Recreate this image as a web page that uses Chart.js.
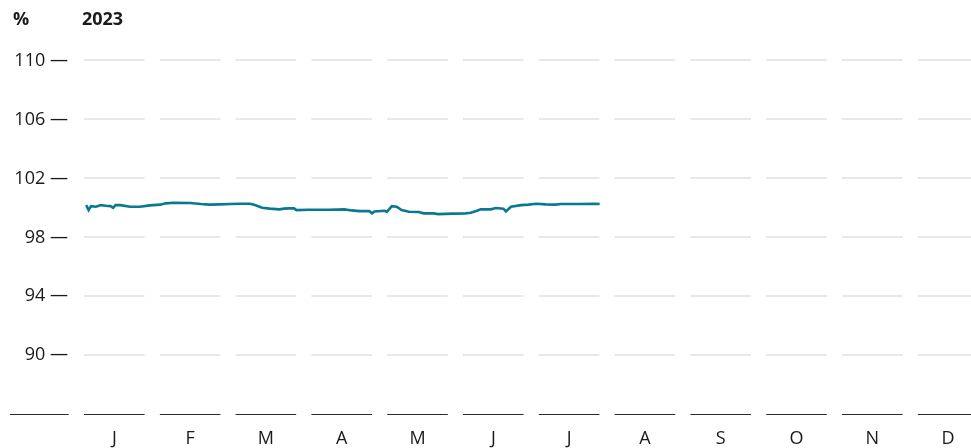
<!DOCTYPE html>
<html>
<head>
<meta charset="utf-8">
<script src="https://cdn.jsdelivr.net/npm/chart.js@4.4.0/dist/chart.umd.min.js"></script>
<style>
  html, body { margin: 0; padding: 0; background: #fff; overflow: hidden; }
  #wrap { width: 1000px; height: 448px; }
</style>
</head>
<body>
<div id="wrap"><canvas id="chart" width="1000" height="448"></canvas></div>
<script>
// month labels along the bottom
const months = ["J", "F", "M", "A", "M", "J", "J", "A", "S", "O", "N", "D"];
const daysInMonth = [31, 28, 31, 30, 31, 30, 31, 31, 30, 31, 30, 31];
const yTicks = [90, 94, 98, 102, 106, 110];

// 2023 observations (MM-DD) and values in %
const dates = [
  "01-05", "01-06", "01-07", "01-09", "01-11", "01-13", "01-15", "01-16", "01-17", "01-19",
  "01-23", "01-27", "01-31", "02-04", "02-06", "02-09", "02-15", "02-19", "02-22", "02-26",
  "03-02", "03-06", "03-10", "03-12", "03-15", "03-18", "03-22", "03-24", "03-26", "03-28",
  "03-29", "04-03", "04-11", "04-17", "04-20", "04-23", "04-27", "04-28", "04-29", "05-03",
  "05-04", "05-06", "05-08", "05-10", "05-13", "05-17", "05-19", "05-23", "05-25", "05-31",
  "06-05", "06-07", "06-09", "06-11", "06-15", "06-17", "06-20", "06-21", "06-23", "06-27",
  "06-30", "07-03", "07-07", "07-11", "07-13", "07-21", "07-27", "07-29"
];
const values = [
  100.19, 99.85, 100.12, 100.08, 100.19, 100.15, 100.12, 100.01, 100.19, 100.19,
  100.08, 100.08, 100.17, 100.22, 100.31, 100.35, 100.33, 100.26, 100.22, 100.24,
  100.26, 100.28, 100.28, 100.19, 100.01, 99.95, 99.90, 99.95, 99.97, 99.97,
  99.85, 99.88, 99.88, 99.90, 99.83, 99.78, 99.78, 99.63, 99.76, 99.81,
  99.74, 100.12, 100.08, 99.85, 99.74, 99.72, 99.63, 99.63, 99.58, 99.61,
  99.63, 99.67, 99.78, 99.90, 99.90, 99.99, 99.95, 99.76, 100.08, 100.19,
  100.22, 100.28, 100.24, 100.22, 100.26, 100.26, 100.28, 100.26
];

function toMonthPos(d) {
  const [m, day] = d.split("-").map(Number);
  return (m - 1) + (day - 1) / daysInMonth[m - 1];
}

const points = dates.map((d, i) => ({ x: toMonthPos(d), y: values[i] }));

const FONT = "'Open Sans', sans-serif";
const TEXT = "#1a1a1a";
const AXIS = "#2b2b2b";

// white gaps between month columns, extra axis piece and titles
const decorPlugin = {
  id: "decor",
  beforeDatasetsDraw(chart) {
    const ctx = chart.ctx;
    const area = chart.chartArea;
    const x = chart.scales.x;
    ctx.save();
    ctx.fillStyle = "#fff";
    for (let k = 0; k <= 12; k++) {
      const bx = x.getPixelForValue(k);
      ctx.fillRect(bx - 7.6, area.top - 3, 15.2, area.bottom - area.top + 6);
    }
    const yb = Math.round(area.bottom) + 0.5;
    ctx.strokeStyle = AXIS;
    ctx.lineWidth = 1;
    ctx.beginPath();
    ctx.moveTo(area.left - 66.4, yb);
    ctx.lineTo(area.left - 7.7, yb);
    ctx.stroke();
    ctx.restore();
  },
  afterDraw(chart) {
    const ctx = chart.ctx;
    const area = chart.chartArea;
    ctx.save();
    ctx.fillStyle = TEXT;
    ctx.font = "bold 18px " + FONT;
    ctx.textBaseline = "middle";
    ctx.textAlign = "left";
    ctx.fillText("%", 13, 20);
    ctx.fillText("2023", area.left + 5.5, 20);
    ctx.restore();
  }
};

new Chart(document.getElementById("chart"), {
  type: "line",
  data: {
    datasets: [
      {
        data: points,
        borderColor: "#0b7891",
        borderWidth: 2.6,
        pointRadius: 0,
        tension: 0,
        fill: false,
      },
    ],
  },
  options: {
    responsive: false,
    animation: false,
    layout: { padding: { top: 31, right: 14, bottom: 0, left: 0 } },
    plugins: { legend: { display: false }, tooltip: { enabled: false } },
    scales: {
      x: {
        type: "linear",
        min: 0,
        max: 12,
        afterBuildTicks(scale) {
          scale.ticks = months.map((m, i) => ({ value: i + 0.5 }));
        },
        afterFit(scale) {
          scale.height = 33.7;
        },
        grid: { display: false, drawTicks: false },
        border: { display: true, color: AXIS, width: 1 },
        ticks: {
          autoSkip: false,
          maxRotation: 0,
          padding: 14,
          color: TEXT,
          font: { family: FONT, size: 18 },
          callback: (v) => months[Math.floor(v)],
        },
      },
      y: {
        min: 86,
        max: 112,
        afterBuildTicks(scale) {
          scale.ticks = yTicks.map((v) => ({ value: v }));
        },
        afterFit(scale) {
          scale.width = 76.4;
        },
        grid: { color: "#e8e8e8", lineWidth: 2, drawTicks: false },
        border: { display: false },
        ticks: {
          padding: 8.5,
          color: TEXT,
          font: { family: FONT, size: 18 },
          callback: (v) => v + " \u2014",
        },
      },
    },
  },
  plugins: [decorPlugin],
});
</script>
</body>
</html>
